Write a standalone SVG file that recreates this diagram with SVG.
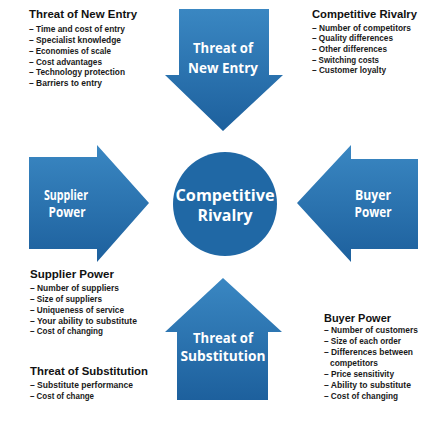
<svg xmlns="http://www.w3.org/2000/svg" width="438" height="424" viewBox="0 0 438 424">
<defs>
<linearGradient id="blue" x1="0" y1="0" x2="0" y2="1">
<stop offset="0" stop-color="#3a87c2"/>
<stop offset="1" stop-color="#1d609d"/>
</linearGradient>
<style>
.shape{fill:url(#blue);}
.lbl{font-family:"Open Sans","Liberation Sans",sans-serif;font-weight:bold;fill:#ffffff;text-anchor:middle;}
.t{font-family:"Liberation Sans",sans-serif;font-weight:bold;font-size:11px;fill:#111111;}
.i{font-family:"Liberation Sans",sans-serif;font-weight:bold;font-size:8.5px;fill:#1a1a1a;}
</style>
</defs>
<rect width="438" height="424" fill="#ffffff"/>
<g id="connectors"></g>
<g id="new-entry">
<path class="shape" d="M179,9 H269 V75 H283 L223,131 L165,75 H179 Z"/>
<text class="lbl" font-size="13.5" x="223" y="53" textLength="60" lengthAdjust="spacingAndGlyphs">Threat of</text>
<text class="lbl" font-size="13.5" x="223" y="73" textLength="70" lengthAdjust="spacingAndGlyphs">New Entry</text>
</g>
<g id="supplier">
<path class="shape" d="M29,157 H97 V145 L149,203 L97,262 V249 H29 Z"/>
<text class="lbl" font-size="13.5" x="66" y="200" textLength="44" lengthAdjust="spacingAndGlyphs">Supplier</text>
<text class="lbl" font-size="13.5" x="67" y="217" textLength="37" lengthAdjust="spacingAndGlyphs">Power</text>
</g>
<g id="buyer">
<path class="shape" d="M418,159 H351 V145 L297,203 L351,262 V249 H418 Z"/>
<text class="lbl" font-size="13.5" x="373" y="200" textLength="36" lengthAdjust="spacingAndGlyphs">Buyer</text>
<text class="lbl" font-size="13.5" x="373" y="217" textLength="37" lengthAdjust="spacingAndGlyphs">Power</text>
</g>
<g id="rivalry">
<circle cx="225" cy="204" r="52" fill="#2068a5"/>
<text class="lbl" font-size="15.5" x="225" y="201" textLength="99" lengthAdjust="spacingAndGlyphs">Competitive</text>
<text class="lbl" font-size="15.5" x="225" y="221" textLength="55" lengthAdjust="spacingAndGlyphs">Rivalry</text>
</g>
<g id="substitution">
<path class="shape" d="M177,400 V332 H165 L223,278 L282,332 H268 V400 Z"/>
<text class="lbl" font-size="13.5" x="223" y="343" textLength="60" lengthAdjust="spacingAndGlyphs">Threat of</text>
<text class="lbl" font-size="13.5" x="223" y="361" textLength="85" lengthAdjust="spacingAndGlyphs">Substitution</text>
</g>
<g id="text-new-entry">
<text class="t" x="29" y="18" textLength="108" lengthAdjust="spacingAndGlyphs">Threat of New Entry</text>
<text class="i" x="29" y="32" textLength="96" lengthAdjust="spacingAndGlyphs">– Time and cost of entry</text>
<text class="i" x="29" y="43" textLength="92" lengthAdjust="spacingAndGlyphs">– Specialist knowledge</text>
<text class="i" x="29" y="54" textLength="82" lengthAdjust="spacingAndGlyphs">– Economies of scale</text>
<text class="i" x="29" y="65" textLength="73" lengthAdjust="spacingAndGlyphs">– Cost advantages</text>
<text class="i" x="29" y="75" textLength="96" lengthAdjust="spacingAndGlyphs">– Technology protection</text>
<text class="i" x="29" y="86" textLength="73" lengthAdjust="spacingAndGlyphs">– Barriers to entry</text>
</g>
<g id="text-rivalry">
<text class="t" x="312" y="18" textLength="105" lengthAdjust="spacingAndGlyphs">Competitive Rivalry</text>
<text class="i" x="312" y="31" textLength="99" lengthAdjust="spacingAndGlyphs">– Number of competitors</text>
<text class="i" x="312" y="41" textLength="81" lengthAdjust="spacingAndGlyphs">– Quality differences</text>
<text class="i" x="312" y="52" textLength="75" lengthAdjust="spacingAndGlyphs">– Other differences</text>
<text class="i" x="312" y="63" textLength="67" lengthAdjust="spacingAndGlyphs">– Switching costs</text>
<text class="i" x="312" y="73" textLength="74" lengthAdjust="spacingAndGlyphs">– Customer loyalty</text>
</g>
<g id="text-supplier">
<text class="t" x="30" y="278" textLength="84" lengthAdjust="spacingAndGlyphs">Supplier Power</text>
<text class="i" x="30" y="291" textLength="89" lengthAdjust="spacingAndGlyphs">– Number of suppliers</text>
<text class="i" x="30" y="302" textLength="72" lengthAdjust="spacingAndGlyphs">– Size of suppliers</text>
<text class="i" x="30" y="313" textLength="94" lengthAdjust="spacingAndGlyphs">– Uniqueness of service</text>
<text class="i" x="30" y="324" textLength="107" lengthAdjust="spacingAndGlyphs">– Your ability to substitute</text>
<text class="i" x="30" y="334" textLength="73" lengthAdjust="spacingAndGlyphs">– Cost of changing</text>
</g>
<g id="text-substitution">
<text class="t" x="30" y="375" textLength="118" lengthAdjust="spacingAndGlyphs">Threat of Substitution</text>
<text class="i" x="30" y="388" textLength="103" lengthAdjust="spacingAndGlyphs">– Substitute performance</text>
<text class="i" x="30" y="399" textLength="64" lengthAdjust="spacingAndGlyphs">– Cost of change</text>
</g>
<g id="text-buyer">
<text class="t" x="324" y="322" textLength="67" lengthAdjust="spacingAndGlyphs">Buyer Power</text>
<text class="i" x="324" y="333" textLength="94" lengthAdjust="spacingAndGlyphs">– Number of customers</text>
<text class="i" x="324" y="344" textLength="77" lengthAdjust="spacingAndGlyphs">– Size of each order</text>
<text class="i" x="324" y="355" textLength="89" lengthAdjust="spacingAndGlyphs">– Differences between</text>
<text class="i" x="330" y="366" textLength="48" lengthAdjust="spacingAndGlyphs">competitors</text>
<text class="i" x="324" y="377" textLength="70" lengthAdjust="spacingAndGlyphs">– Price sensitivity</text>
<text class="i" x="324" y="388" textLength="87" lengthAdjust="spacingAndGlyphs">– Ability to substitute</text>
<text class="i" x="324" y="399" textLength="74" lengthAdjust="spacingAndGlyphs">– Cost of changing</text>
</g>
</svg>
